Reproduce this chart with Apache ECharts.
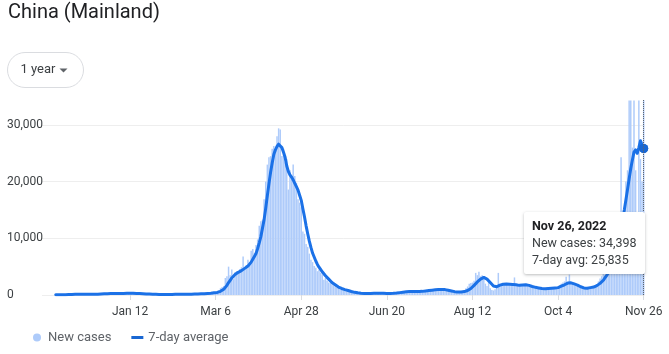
<!DOCTYPE html>
<html>
<head>
<meta charset="utf-8">
<title>China (Mainland)</title>
<script src="https://cdn.jsdelivr.net/npm/echarts@6/dist/echarts.min.js"></script>
<style>
  html, body { margin: 0; padding: 0; background: #fff; }
  #chart { width: 669px; height: 354px; }
</style>
</head>
<body>
<div id="chart"></div>
<script>
// axis starts 8 days before the first reported value (empty days)
const leadDays = 8
const firstDay = [2021, 10, 19] // Nov 19, 2021 (UTC, month 0-based)

// daily new cases, Nov 27 2021 .. Nov 26 2022 (one row = one week)
const newCases = [
  45, 38, 52, 60, 73, 92, 105,
  98, 120, 110, 115, 130, 125, 140,
  150, 135, 160, 145, 130, 120, 110,
  105, 120, 140, 160, 180, 210, 230,
  250, 240, 260, 230, 250, 240, 220,
  230, 260, 240, 270, 280, 260, 300,
  320, 300, 340, 310, 290, 280, 260,
  250, 230, 220, 200, 190, 180, 160,
  150, 140, 130, 120, 110, 100, 110,
  100, 90, 95, 80, 85, 90, 100,
  110, 130, 150, 170, 160, 150, 140,
  150, 140, 130, 120, 130, 140, 160,
  170, 190, 200, 210, 230, 250, 270,
  280, 300, 320, 350, 380, 420, 460,
  500, 550, 600, 800, 1200, 1400, 1600,
  3000, 3300, 5000, 3500, 4500, 2800, 4000,
  4200, 3800, 4600, 4900, 6800, 4500, 5300,
  6200, 5800, 7800, 8100, 7400, 8800, 9800,
  12200, 13000, 13200, 16900, 20000, 23000, 24300,
  24500, 25800, 26300, 25000, 28000, 29400, 29200,
  24500, 25800, 23400, 24000, 18600, 22000, 20300,
  23000, 21000, 19800, 16900, 16300, 15500, 11200,
  10800, 9000, 8500, 7300, 6200, 5800, 5100,
  4800, 4200, 4500, 3900, 3600, 2700, 3000,
  2500, 2200, 2100, 1900, 1700, 1500, 1300,
  1200, 1000, 900, 800, 700, 650, 600,
  500, 420, 350, 280, 250, 240, 230,
  220, 230, 240, 230, 260, 280, 300,
  310, 320, 300, 290, 280, 270, 260,
  270, 280, 300, 290, 310, 330, 360,
  400, 450, 480, 520, 560, 600, 620,
  600, 580, 620, 640, 600, 580, 620,
  600, 640, 660, 700, 750, 780, 820,
  860, 840, 880, 920, 960, 990, 1000,
  980, 950, 900, 850, 800, 700, 650,
  600, 550, 520, 500, 480, 500, 540,
  600, 700, 1200, 1500, 2000, 2100, 2200,
  2500, 3900, 3500, 4100, 3300, 3500, 3000,
  2000, 1600, 2600, 1200, 900, 800, 1000,
  1500, 3900, 1800, 1900, 2000, 1900, 2100,
  2000, 1900, 1800, 2000, 3100, 1700, 1600,
  1800, 1700, 1600, 1900, 1800, 1600, 1500,
  1400, 1300, 1200, 1300, 1200, 1100, 1100,
  1000, 1100, 1200, 1000, 1300, 1100, 1200,
  1300, 1200, 1400, 1500, 1700, 2000, 2200,
  2400, 3200, 2100, 3600, 2000, 1900, 1700,
  1600, 1500, 1400, 1300, 1200, 1200, 1100,
  1200, 1300, 1300, 1400, 1500, 1700, 1900,
  2400, 2900, 3300, 3700, 3600, 3300, 4000,
  5200, 5900, 6600, 8200, 8600, 11500, 13000,
  24300, 9000, 4000, 20000, 22000, 34300, 34300,
  26000, 34300, 22000, 12000, 34300, 24000, 20000,
  34398
]

// 7-day average, same days
const avg7 = [
  40, 42, 44, 48, 52, 58, 65,
  75, 85, 95, 105, 112, 118, 123,
  130, 134, 138, 140, 139, 137, 136,
  132, 130, 131, 135, 140, 150, 165,
  185, 200, 215, 228, 237, 242, 245,
  243, 246, 246, 249, 250, 254, 263,
  273, 280, 291, 297, 300, 303, 300,
  293, 283, 271, 258, 244, 229, 211,
  197, 181, 167, 153, 140, 130, 123,
  116, 109, 104, 98, 94, 92, 91,
  94, 100, 107, 118, 128, 137, 143,
  149, 150, 147, 143, 140, 137, 139,
  142, 150, 160, 170, 180, 193, 210,
  224, 240, 257, 276, 297, 322, 351,
  384, 420, 450, 520, 650, 800, 1000,
  1300, 1700, 2200, 2600, 3000, 3300, 3600,
  3900, 4000, 4100, 4300, 4600, 4700, 4900,
  5100, 5300, 5800, 6300, 6800, 7300, 8200,
  9200, 10300, 11800, 13300, 15300, 17500, 19600,
  21600, 23300, 24800, 25600, 26200, 26600, 26500,
  26000, 25200, 24300, 22800, 21800, 21200, 20800,
  20300, 19700, 19100, 18500, 17600, 16700, 15200,
  13800, 12200, 10800, 9500, 8400, 7400, 6700,
  6000, 5400, 4900, 4500, 4100, 3800, 3400,
  3100, 2800, 2500, 2200, 2000, 1800, 1600,
  1400, 1250, 1150, 1050, 950, 870, 800,
  700, 620, 540, 470, 420, 380, 340,
  310, 290, 280, 270, 265, 265, 270,
  280, 290, 300, 305, 305, 300, 295,
  290, 285, 280, 280, 285, 290, 300,
  320, 350, 380, 420, 460, 500, 540,
  570, 590, 600, 610, 610, 605, 600,
  600, 610, 620, 640, 670, 710, 750,
  790, 820, 850, 880, 910, 940, 960,
  980, 990, 980, 950, 900, 850, 790,
  720, 650, 590, 550, 520, 510, 520,
  550, 600, 680, 800, 950, 1150, 1400,
  1700, 2000, 2300, 2600, 2800, 3000, 3100,
  3000, 2800, 2500, 2200, 1900, 1600, 1400,
  1450, 1600, 1750, 1850, 1900, 1950, 1950,
  1950, 1900, 1900, 1850, 1800, 1800, 1750,
  1700, 1700, 1750, 1800, 1800, 1750, 1700,
  1600, 1500, 1400, 1350, 1300, 1250, 1200,
  1150, 1100, 1100, 1100, 1150, 1200, 1200,
  1200, 1250, 1300, 1300, 1400, 1550, 1700,
  1800, 1950, 2100, 2200, 2150, 2050, 1950,
  1850, 1750, 1600, 1450, 1350, 1250, 1200,
  1200, 1250, 1300, 1350, 1400, 1500, 1650,
  1850, 2050, 2300, 2600, 3000, 3400, 3900,
  4400, 4900, 5600, 6500, 7700, 9000, 10600,
  12000, 13500, 15000, 16800, 18600, 20500, 22300,
  23800, 25200, 25600, 25000, 26000, 27200, 27000,
  25835
]

const tickDates = ['Jan 12, 2022', 'Mar 6, 2022', 'Apr 28, 2022', 'Jun 20, 2022', 'Aug 12, 2022', 'Oct 4, 2022', 'Nov 26, 2022']

const months = ['Jan', 'Feb', 'Mar', 'Apr', 'May', 'Jun', 'Jul', 'Aug', 'Sep', 'Oct', 'Nov', 'Dec']
const dates = []
const t0 = Date.UTC(firstDay[0], firstDay[1], firstDay[2])
for (let i = 0; i < leadDays + newCases.length; i++) {
  const d = new Date(t0 + i * 86400000)
  dates.push(months[d.getUTCMonth()] + ' ' + d.getUTCDate() + ', ' + d.getUTCFullYear())
}
const pad = new Array(leadDays).fill(null)
const lastIdx = dates.length - 1
const fmt = v => Number(v).toLocaleString('en-US')
const isTick = (i, v) => tickDates.indexOf(v) >= 0

const barColor = '#aecbfa'
const lineColor = '#1967d2'
const font = 'Roboto, Arial, sans-serif'

const chart = echarts.init(document.getElementById('chart'))

chart.setOption({
  animation: false,
  textStyle: { fontFamily: font },
  title: {
    text: 'China (Mainland)',
    left: 8,
    top: 3,
    padding: 0,
    textStyle: { fontSize: 20, fontWeight: 'normal', color: '#202124', fontFamily: font }
  },
  graphic: [
    {
      type: 'rect',
      shape: { x: 7.5, y: 52.5, width: 76, height: 35, r: 17.5 },
      style: { fill: '#fff', stroke: '#dadce0', lineWidth: 1 }
    },
    {
      type: 'text',
      x: 20.5,
      y: 70,
      style: { text: '1 year', fontSize: 13, fill: '#3c4043', fontFamily: font, verticalAlign: 'middle' }
    },
    {
      type: 'polygon',
      shape: { points: [[59.5, 68.5], [67.5, 68.5], [63.5, 72.5]] },
      style: { fill: '#5f6368' }
    }
  ],
  legend: {
    left: 33,
    top: 331,
    padding: 0,
    itemWidth: 12,
    itemHeight: 8,
    itemGap: 20,
    itemStyle: { borderWidth: 0 },
    textStyle: { color: '#5f6368', fontSize: 13, fontFamily: font },
    data: [
      { name: 'New cases', icon: 'circle' },
      { name: '7-day average', icon: 'path://M0,0M12,8M0,2.5h12v3h-12z' }
    ]
  },
  grid: { left: 42, right: 24.5, top: 100, bottom: 59 },
  tooltip: {
    trigger: 'axis',
    triggerOn: 'none',
    alwaysShowContent: true,
    axisPointer: {
      type: 'line',
      lineStyle: { type: 'dotted', color: '#5f6368', width: 1 },
      label: { show: false }
    },
    backgroundColor: '#fff',
    borderWidth: 0,
    padding: [5, 8, 6, 8],
    extraCssText: 'box-shadow: 0 1px 3px rgba(60,64,67,0.35); border-radius: 2px;',
    position: function (point, params, dom, rect, size) {
      return [point[0] - size.contentSize[0] + 1, 212]
    },
    formatter: function (params) {
      const bar = params.find(p => p.seriesName === 'New cases')
      const line = params.find(p => p.seriesName === '7-day average')
      const row = 'font-family:' + font + ';font-size:12.5px;color:#3c4043;line-height:17px;'
      return '<div style="' + row + 'font-weight:bold;color:#202124">' + params[0].axisValue + '</div>' +
        '<div style="' + row + '">New cases: ' + fmt(bar.value) + '</div>' +
        '<div style="' + row + '">7-day avg: ' + fmt(line.value) + '</div>'
    }
  },
  xAxis: {
    type: 'category',
    data: dates,
    boundaryGap: true,
    axisLine: { show: false },
    axisTick: {
      show: true,
      alignWithLabel: true,
      interval: isTick,
      length: 5,
      lineStyle: { color: '#dadce0' }
    },
    axisLabel: {
      interval: isTick,
      formatter: v => v.split(',')[0],
      color: '#3c4043',
      fontSize: 12,
      margin: 11
    },
    splitLine: { show: false }
  },
  yAxis: {
    type: 'value',
    min: 0,
    max: 34398,
    interval: 10000,
    axisLine: { show: false },
    axisTick: { show: false },
    axisLabel: {
      formatter: v => fmt(v),
      align: 'left',
      margin: 35,
      color: '#3c4043',
      fontSize: 12,
      showMaxLabel: false
    },
    splitLine: { lineStyle: { color: '#eeeeee' }, showMaxLine: false }
  },
  series: [
    {
      name: 'New cases',
      type: 'bar',
      data: pad.concat(newCases),
      barCategoryGap: '8%',
      itemStyle: { color: barColor },
      emphasis: { disabled: true },
      z: 1
    },
    {
      name: '7-day average',
      type: 'line',
      data: pad.concat(avg7),
      showSymbol: false,
      symbol: 'circle',
      symbolSize: 9,
      lineStyle: { width: 3, color: lineColor, cap: 'round', join: 'round' },
      itemStyle: { color: lineColor },
      emphasis: { scale: false },
      markPoint: {
        symbol: 'circle',
        symbolSize: 9,
        label: { show: false },
        itemStyle: { color: lineColor },
        data: [{ coord: [lastIdx, avg7[avg7.length - 1]] }]
      },
      z: 3
    }
  ]
})

chart.dispatchAction({ type: 'showTip', seriesIndex: 0, dataIndex: lastIdx })
</script>
</body>
</html>
